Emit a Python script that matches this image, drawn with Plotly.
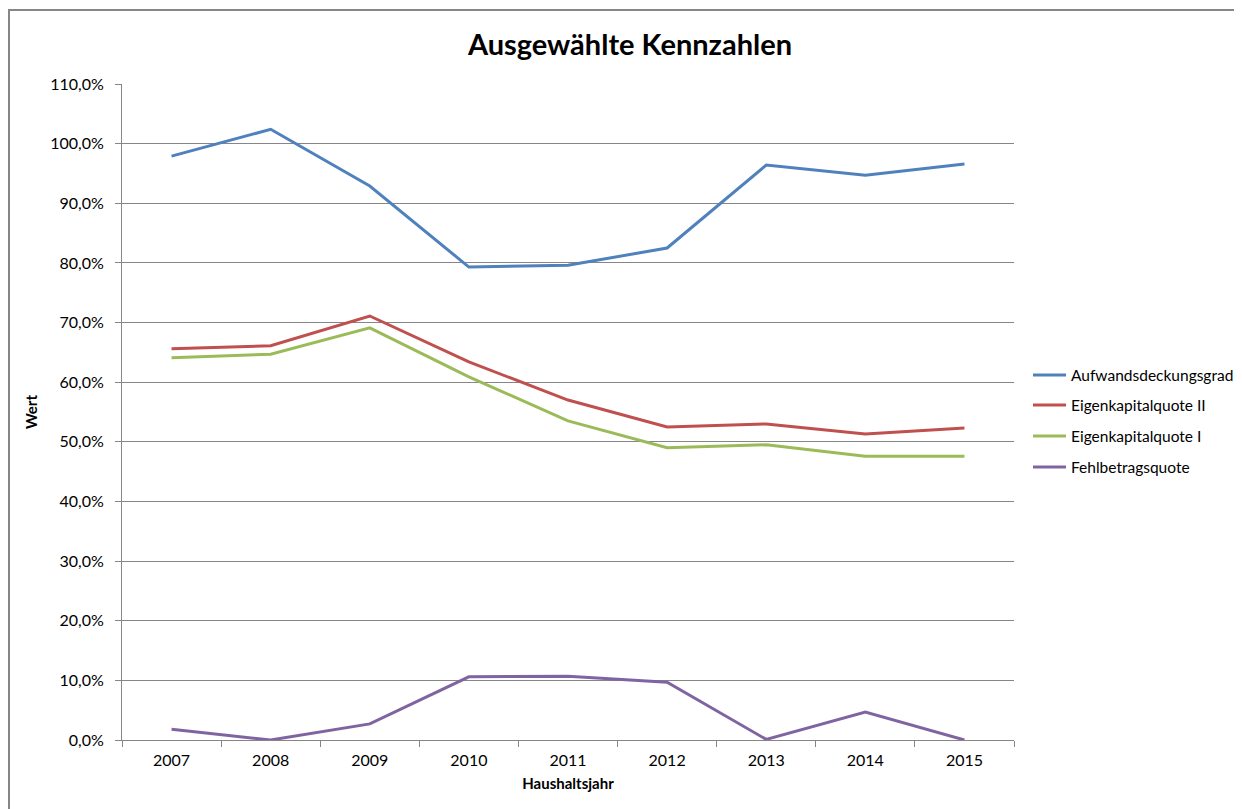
import plotly.graph_objects as go

years = ["2007", "2008", "2009", "2010", "2011", "2012", "2013", "2014", "2015"]
aufwand = [97.9, 102.4, 92.9, 79.3, 79.6, 82.5, 96.4, 94.7, 96.6]
ekq2 = [65.6, 66.1, 71.1, 63.4, 57.0, 52.5, 53.0, 51.3, 52.3]
ekq1 = [64.1, 64.7, 69.1, 60.9, 53.5, 49.0, 49.5, 47.6, 47.6]
fehl = [1.8, 0.0, 2.7, 10.6, 10.7, 9.7, 0.1, 4.7, 0.0]

series = [
    ("Aufwandsdeckungsgrad", aufwand, "#4F81BD"),
    ("Eigenkapitalquote II", ekq2, "#C0504D"),
    ("Eigenkapitalquote I", ekq1, "#9BBB59"),
    ("Fehlbetragsquote", fehl, "#8064A2"),
]

FONT = "Lato, 'Open Sans', sans-serif"

# page offset of 8px (body margin) is compensated in the margins
W, H = 1234, 801
L, T = 114, 76
R, B = 228, 69
pw, ph = W - L - R, H - T - B


def px_x(p):  # page pixel -> paper x
    return (p - 8 - L) / pw


def px_y(p):  # page pixel -> paper y
    return (H - B + 8 - p) / ph


fig = go.Figure()
for name, vals, col in series:
    fig.add_trace(go.Scatter(x=years, y=vals, name=name, mode="lines",
                             showlegend=False,
                             line=dict(color=col, width=3)))

# legend drawn manually (to the right of the plot)
leg_y = [375, 405, 436, 467]
for (name, vals, col), yy in zip(series, leg_y):
    fig.add_shape(type="line", xref="paper", yref="paper",
                  x0=px_x(1033), x1=px_x(1066), y0=px_y(yy), y1=px_y(yy),
                  line=dict(color=col, width=3))
    fig.add_annotation(xref="paper", yref="paper", x=px_x(1069), y=px_y(yy),
                       text=name, showarrow=False, xanchor="left",
                       yanchor="middle",
                       font=dict(family=FONT, size=15.5, color="#000000"))

fig.update_layout(
    width=W, height=H,
    margin=dict(l=L, r=R, t=T, b=B),
    paper_bgcolor="white", plot_bgcolor="white",
    separators=",.",
    font=dict(family=FONT, size=16, color="#000000"),
    title=dict(text="<b>Ausgewählte Kennzahlen</b>", x=(630 - 8) / W,
               xref="container", xanchor="center",
               y=1 - 37 / H, yanchor="middle",
               font=dict(family=FONT, size=29, color="#000000")),
    showlegend=False,
    xaxis=dict(type="category", range=[-0.5, 8.5], tickson="boundaries",
               ticks="outside", ticklen=6, tickcolor="#868686",
               showline=True, linecolor="#868686", linewidth=1,
               showgrid=False, zeroline=False, ticklabelstandoff=6,
               tickfont=dict(family=FONT, size=16),
               title=dict(text="<b>Haushaltsjahr</b>", standoff=10,
                          font=dict(family=FONT, size=15))),
    yaxis=dict(range=[0, 110], dtick=10, tickformat=".1f", ticksuffix="%",
               ticks="outside", ticklen=6, tickcolor="#868686",
               showline=True, linecolor="#868686", linewidth=1,
               showgrid=True, gridcolor="#868686", gridwidth=1,
               zeroline=False, ticklabelstandoff=8,
               tickfont=dict(family=FONT, size=16),
               title=dict(text="<b>Wert</b>", standoff=8,
                          font=dict(family=FONT, size=15))),
)

# outer chart border (partially visible at top and left)
fig.add_shape(type="rect", xref="paper", yref="paper",
              x0=-(L - 1) / pw, x1=1.5, y0=-0.5, y1=1 + (T - 2) / ph,
              line=dict(color="#868686", width=2), fillcolor="rgba(0,0,0,0)",
              layer="below")

fig.write_html("out.html")
